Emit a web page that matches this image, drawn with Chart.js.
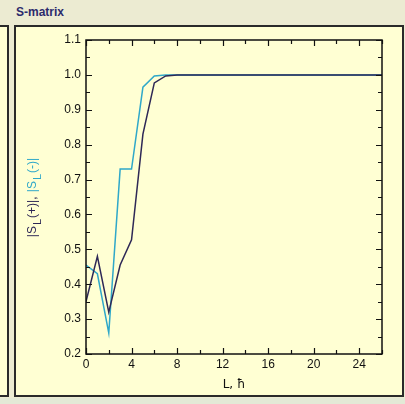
<!DOCTYPE html>
<html>
<head>
<meta charset="utf-8">
<script src="https://cdn.jsdelivr.net/npm/chart.js@4.4.1/dist/chart.umd.min.js"></script>
<style>
  html, body { margin: 0; padding: 0; }
  body {
    width: 405px; height: 404px; position: relative; overflow: hidden;
    background: #ecebd2;
    font-family: "Liberation Sans", Arial, sans-serif;
  }
  .caption {
    position: absolute; left: 16px; top: 5px;
    font-weight: bold; font-size: 12px; color: #2b2a6c;
  }
  .panel {
    position: absolute; background: #ffffd3;
    border: 2px solid #2a2a2a; box-sizing: border-box;
  }
  #left-panel { left: -10px; top: 25px; width: 19px; height: 372px; }
  #main-panel { left: 14px; top: 25px; width: 390px; height: 372px; }
  .strip { position: absolute; left: 0; top: 398px; width: 405px; height: 6px; background: #e3e9d6; }
  #chart { position: absolute; left: 0; top: 0; }
</style>
</head>
<body>
<div class="caption">S-matrix</div>
<div class="panel" id="left-panel"></div>
<div class="panel" id="main-panel"></div>
<div class="strip"></div>
<canvas id="chart" width="405" height="404"></canvas>
<script>
// orbital momentum L and the two S-matrix moduli
const L = [0, 1, 2, 3, 4, 5, 6, 7, 8, 9, 10, 11, 12, 13, 14, 15, 16, 17, 18, 19, 20, 21, 22, 23, 24, 25, 26];
const sPlus = [0.35, 0.48, 0.32, 0.455, 0.527, 0.83, 0.977, 0.997, 1.0, 1.0, 1.0, 1.0, 1.0, 1.0,
  1.0, 1.0, 1.0, 1.0, 1.0, 1.0, 1.0, 1.0, 1.0, 1.0, 1.0, 1.0, 1.0];
const sMinus = [0.455, 0.43, 0.26, 0.73, 0.73, 0.965, 0.997, 1.0, 1.0, 1.0, 1.0, 1.0, 1.0, 1.0,
  1.0, 1.0, 1.0, 1.0, 1.0, 1.0, 1.0, 1.0, 1.0, 1.0, 1.0, 1.0, 1.0];

const xTicks = [0, 4, 8, 12, 16, 20, 24];
const yTicks = [0.2, 0.3, 0.4, 0.5, 0.6, 0.7, 0.8, 0.9, 1.0, 1.1];

const DARK = '#2e2856';
const CYAN = '#2fa8c9';
const FAMILY = '"Liberation Sans", Arial, sans-serif';
const FONT = '12px ' + FAMILY;

const toPoints = (ys) => L.map((l, i) => ({ x: l, y: ys[i] }));

// frame with inward ticks on all four sides, plus axis titles
const framePlugin = {
  id: 'frame',
  afterDraw(chart) {
    const { ctx, chartArea: a, scales: { x, y } } = chart;
    ctx.save();
    ctx.strokeStyle = '#111';
    ctx.lineWidth = 1.5;
    ctx.strokeRect(a.left, a.top, a.right - a.left, a.bottom - a.top);
    ctx.lineWidth = 1.2;
    ctx.beginPath();
    for (let v = 0; v <= 26; v += 2) {
      const px = Math.round(x.getPixelForValue(v)) + 0.5;
      const len = v % 4 === 0 ? 6 : 4;
      ctx.moveTo(px, a.bottom); ctx.lineTo(px, a.bottom - len);
      ctx.moveTo(px, a.top); ctx.lineTo(px, a.top + len);
    }
    for (let k = 0; k <= 18; k++) {
      const v = 0.2 + k * 0.05;
      const py = Math.round(y.getPixelForValue(v)) + 0.5;
      const len = k % 2 === 0 ? 6 : 4;
      ctx.moveTo(a.left, py); ctx.lineTo(a.left + len, py);
      ctx.moveTo(a.right, py); ctx.lineTo(a.right - len, py);
    }
    ctx.stroke();

    ctx.font = '12px "DejaVu Sans", sans-serif';
    ctx.fillStyle = '#111';
    ctx.textAlign = 'center';
    ctx.textBaseline = 'middle';
    ctx.fillText('L, ħ', (a.left + a.right) / 2, 385);

    // |S_L(+)|, |S_L(-)| rotated along the y axis
    const parts = [
      { t: '|S', c: DARK }, { t: 'L', c: DARK, sub: true }, { t: '(+)|, ', c: DARK },
      { t: '|S', c: CYAN }, { t: 'L', c: CYAN, sub: true }, { t: '(-)|', c: CYAN }
    ];
    const subFont = '11px ' + FAMILY;
    let total = 0;
    parts.forEach(p => { ctx.font = p.sub ? subFont : FONT; p.w = ctx.measureText(p.t).width + 1; total += p.w; });
    ctx.translate(33, (a.top + a.bottom) / 2);
    ctx.rotate(-Math.PI / 2);
    ctx.textAlign = 'left';
    let cx = -total / 2;
    parts.forEach(p => {
      ctx.font = p.sub ? subFont : FONT;
      ctx.fillStyle = p.c;
      ctx.fillText(p.t, cx, p.sub ? 5 : 0);
      cx += p.w;
    });
    ctx.restore();
  }
};

new Chart(document.getElementById('chart'), {
  type: 'line',
  data: {
    datasets: [
      { label: '|S_L(+)|', data: toPoints(sPlus), borderColor: DARK, borderWidth: 1.5, pointRadius: 0, tension: 0 },
      { label: '|S_L(-)|', data: toPoints(sMinus), borderColor: CYAN, borderWidth: 1.5, pointRadius: 0, tension: 0 }
    ]
  },
  options: {
    responsive: false,
    animation: false,
    events: [],
    layout: { padding: { left: 0, right: 23, top: 40, bottom: 0 }, autoPadding: false },
    plugins: { legend: { display: false }, tooltip: { enabled: false } },
    scales: {
      x: {
        type: 'linear', min: 0, max: 26,
        afterFit: (s) => { s.height = 50; },
        afterBuildTicks: (s) => { s.ticks = xTicks.map(v => ({ value: v })); },
        grid: { display: false, drawTicks: false },
        border: { display: false },
        ticks: { color: '#111', font: { family: FAMILY, size: 12 }, padding: 3, maxRotation: 0 }
      },
      y: {
        min: 0.2, max: 1.1,
        afterFit: (s) => { s.width = 86; },
        afterBuildTicks: (s) => { s.ticks = yTicks.map(v => ({ value: v })); },
        grid: { display: false, drawTicks: false },
        border: { display: false },
        ticks: { color: '#111', font: { family: FAMILY, size: 12 }, padding: 5,
          callback: (v) => v.toFixed(1) }
      }
    }
  },
  plugins: [framePlugin]
});
</script>
</body>
</html>
